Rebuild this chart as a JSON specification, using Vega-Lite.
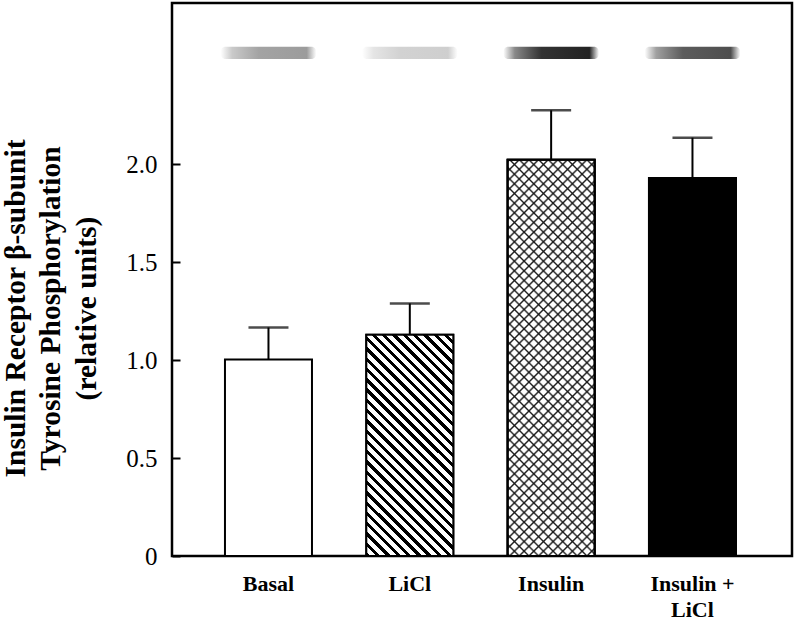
{
"$schema": "https://vega.github.io/schema/vega-lite/v6.json",
"width": 620,
"height": 553,
"autosize": {"type": "none"},
"padding": {"left": 172, "top": 3, "right": 5, "bottom": 67},
"background": "white",
"config": {"view": {"stroke": "black", "strokeWidth": 2.5}, "font": "Liberation Serif", "axis": {"grid": false, "domain": false}},
"data": {"values": [
{"group": "Basal", "mean": 1.004, "upper": 1.167, "blot": 0.45},
{"group": "LiCl", "mean": 1.13, "upper": 1.29, "blot": 0.22},
{"group": "Insulin", "mean": 2.024, "upper": 2.276, "blot": 1.0},
{"group": "Insulin + LiCl", "mean": 1.93, "upper": 2.136, "blot": 0.8}
]},
"encoding": {
"x": {"field": "group", "type": "nominal", "sort": null,
"scale": {"paddingInner": 0.3844, "paddingOuter": 0.3856, "align": 0.486},
"axis": {"title": null, "ticks": false, "domain": false, "labelAngle": 0, "labelFont": "Liberation Serif", "labelFontSize": 22, "labelFontWeight": "bold", "labelColor": "black", "labelPadding": 17, "labelLineHeight": 26, "labelExpr": "datum.value == 'Insulin + LiCl' ? ['Insulin +', 'LiCl'] : datum.label"}},
"y": {"field": "mean", "type": "quantitative", "scale": {"domain": [0, 2.824], "nice": false},
"axis": {"title": ["Insulin Receptor β-subunit", "Tyrosine Phosphorylation", "(relative units)"], "titleFont": "Liberation Serif", "titleFontSize": 29.5, "titleFontWeight": "bold", "titleColor": "black", "titleLineHeight": 35.5, "titleBaseline": "top", "titleAlign": "center", "titleAngle": -90, "titleX": -171, "titleY": 305,
"values": [0, 0.5, 1, 1.5, 2], "labelExpr": "datum.value == 0 ? '0' : format(datum.value, '.1f')", "labelFont": "Liberation Serif", "labelFontSize": 25, "labelColor": "black", "labelPadding": 23, "tickSize": -8, "tickWidth": 2, "tickColor": "black", "domain": false, "grid": false}}
},
"layer": [
{
"mark": {"type": "bar", "fill": "white", "stroke": "black", "strokeWidth": 2}
},
{
"mark": {"type": "bar", "width": {"band": 1.1}, "cornerRadius": 5,
"fill": {"gradient": "linear", "x1": 0, "y1": 0, "x2": 1, "y2": 0, "stops": [
{"offset": 0, "color": "rgba(40,40,40,0)"},
{"offset": 0.12, "color": "rgba(40,40,40,0.55)"},
{"offset": 0.4, "color": "#333"},
{"offset": 0.9, "color": "#222"},
{"offset": 1, "color": "rgba(40,40,40,0)"}]}},
"encoding": {
"y": {"datum": 2.538, "type": "quantitative", "scale": {"domain": [0, 2.824], "nice": false},
"axis": {"title": ["Insulin Receptor β-subunit", "Tyrosine Phosphorylation", "(relative units)"], "titleFont": "Liberation Serif", "titleFontSize": 29.5, "titleFontWeight": "bold", "titleColor": "black", "titleLineHeight": 35.5, "titleBaseline": "top", "titleAlign": "center", "titleAngle": -90, "titleX": -171, "titleY": 305,
"values": [0, 0.5, 1, 1.5, 2], "labelExpr": "datum.value == 0 ? '0' : format(datum.value, '.1f')", "labelFont": "Liberation Serif", "labelFontSize": 25, "labelColor": "black", "labelPadding": 23, "tickSize": -8, "tickWidth": 2, "tickColor": "black", "domain": false, "grid": false}},
"y2": {"datum": 2.6},
"opacity": {"field": "blot", "type": "quantitative", "scale": {"domain": [0, 1], "range": [0, 1]}, "legend": null}
}
},
{
"transform": [{"filter": "datum.group == 'LiCl'"}],
"mark": {"type": "bar", "stroke": "black", "strokeWidth": 2,
"fill": {"gradient": "linear", "x1": 0, "y1": 1, "x2": 0.4743, "y2": -0.2066, "stops": [
{"offset":0,"color":"#000"},{"offset":0.014,"color":"#000"},{"offset":0.014,"color":"#fff"},{"offset":0.03333,"color":"#fff"},
{"offset":0.03333,"color":"#000"},{"offset":0.04733,"color":"#000"},{"offset":0.04733,"color":"#fff"},{"offset":0.06667,"color":"#fff"},
{"offset":0.06667,"color":"#000"},{"offset":0.08067,"color":"#000"},{"offset":0.08067,"color":"#fff"},{"offset":0.1,"color":"#fff"},
{"offset":0.1,"color":"#000"},{"offset":0.114,"color":"#000"},{"offset":0.114,"color":"#fff"},{"offset":0.13333,"color":"#fff"},
{"offset":0.13333,"color":"#000"},{"offset":0.14733,"color":"#000"},{"offset":0.14733,"color":"#fff"},{"offset":0.16667,"color":"#fff"},
{"offset":0.16667,"color":"#000"},{"offset":0.18067,"color":"#000"},{"offset":0.18067,"color":"#fff"},{"offset":0.2,"color":"#fff"},
{"offset":0.2,"color":"#000"},{"offset":0.214,"color":"#000"},{"offset":0.214,"color":"#fff"},{"offset":0.23333,"color":"#fff"},
{"offset":0.23333,"color":"#000"},{"offset":0.24733,"color":"#000"},{"offset":0.24733,"color":"#fff"},{"offset":0.26667,"color":"#fff"},
{"offset":0.26667,"color":"#000"},{"offset":0.28067,"color":"#000"},{"offset":0.28067,"color":"#fff"},{"offset":0.3,"color":"#fff"},
{"offset":0.3,"color":"#000"},{"offset":0.314,"color":"#000"},{"offset":0.314,"color":"#fff"},{"offset":0.33333,"color":"#fff"},
{"offset":0.33333,"color":"#000"},{"offset":0.34733,"color":"#000"},{"offset":0.34733,"color":"#fff"},{"offset":0.36667,"color":"#fff"},
{"offset":0.36667,"color":"#000"},{"offset":0.38067,"color":"#000"},{"offset":0.38067,"color":"#fff"},{"offset":0.4,"color":"#fff"},
{"offset":0.4,"color":"#000"},{"offset":0.414,"color":"#000"},{"offset":0.414,"color":"#fff"},{"offset":0.43333,"color":"#fff"},
{"offset":0.43333,"color":"#000"},{"offset":0.44733,"color":"#000"},{"offset":0.44733,"color":"#fff"},{"offset":0.46667,"color":"#fff"},
{"offset":0.46667,"color":"#000"},{"offset":0.48067,"color":"#000"},{"offset":0.48067,"color":"#fff"},{"offset":0.5,"color":"#fff"},
{"offset":0.5,"color":"#000"},{"offset":0.514,"color":"#000"},{"offset":0.514,"color":"#fff"},{"offset":0.53333,"color":"#fff"},
{"offset":0.53333,"color":"#000"},{"offset":0.54733,"color":"#000"},{"offset":0.54733,"color":"#fff"},{"offset":0.56667,"color":"#fff"},
{"offset":0.56667,"color":"#000"},{"offset":0.58067,"color":"#000"},{"offset":0.58067,"color":"#fff"},{"offset":0.6,"color":"#fff"},
{"offset":0.6,"color":"#000"},{"offset":0.614,"color":"#000"},{"offset":0.614,"color":"#fff"},{"offset":0.63333,"color":"#fff"},
{"offset":0.63333,"color":"#000"},{"offset":0.64733,"color":"#000"},{"offset":0.64733,"color":"#fff"},{"offset":0.66667,"color":"#fff"},
{"offset":0.66667,"color":"#000"},{"offset":0.68067,"color":"#000"},{"offset":0.68067,"color":"#fff"},{"offset":0.7,"color":"#fff"},
{"offset":0.7,"color":"#000"},{"offset":0.714,"color":"#000"},{"offset":0.714,"color":"#fff"},{"offset":0.73333,"color":"#fff"},
{"offset":0.73333,"color":"#000"},{"offset":0.74733,"color":"#000"},{"offset":0.74733,"color":"#fff"},{"offset":0.76667,"color":"#fff"},
{"offset":0.76667,"color":"#000"},{"offset":0.78067,"color":"#000"},{"offset":0.78067,"color":"#fff"},{"offset":0.8,"color":"#fff"},
{"offset":0.8,"color":"#000"},{"offset":0.814,"color":"#000"},{"offset":0.814,"color":"#fff"},{"offset":0.83333,"color":"#fff"},
{"offset":0.83333,"color":"#000"},{"offset":0.84733,"color":"#000"},{"offset":0.84733,"color":"#fff"},{"offset":0.86667,"color":"#fff"},
{"offset":0.86667,"color":"#000"},{"offset":0.88067,"color":"#000"},{"offset":0.88067,"color":"#fff"},{"offset":0.9,"color":"#fff"},
{"offset":0.9,"color":"#000"},{"offset":0.914,"color":"#000"},{"offset":0.914,"color":"#fff"},{"offset":0.93333,"color":"#fff"},
{"offset":0.93333,"color":"#000"},{"offset":0.94733,"color":"#000"},{"offset":0.94733,"color":"#fff"},{"offset":0.96667,"color":"#fff"},
{"offset":0.96667,"color":"#000"},{"offset":0.98067,"color":"#000"},{"offset":0.98067,"color":"#fff"},{"offset":1,"color":"#fff"}
]}}
},
{
"transform": [{"filter": "datum.group == 'Insulin'"}],
"mark": {"type": "bar", "stroke": "black", "strokeWidth": 2,
"fill": {"gradient": "linear", "x1": 0, "y1": 1, "x2": 0.2554, "y2": -0.1635, "stops": [
{"offset":0,"color":"#fff"},{"offset":0.004,"color":"#1a1a1a"},{"offset":0.008,"color":"#fff"},
{"offset":0.02,"color":"#fff"},{"offset":0.024,"color":"#1a1a1a"},{"offset":0.028,"color":"#fff"},
{"offset":0.04,"color":"#fff"},{"offset":0.044,"color":"#1a1a1a"},{"offset":0.048,"color":"#fff"},
{"offset":0.06,"color":"#fff"},{"offset":0.064,"color":"#1a1a1a"},{"offset":0.068,"color":"#fff"},
{"offset":0.08,"color":"#fff"},{"offset":0.084,"color":"#1a1a1a"},{"offset":0.088,"color":"#fff"},
{"offset":0.1,"color":"#fff"},{"offset":0.104,"color":"#1a1a1a"},{"offset":0.108,"color":"#fff"},
{"offset":0.12,"color":"#fff"},{"offset":0.124,"color":"#1a1a1a"},{"offset":0.128,"color":"#fff"},
{"offset":0.14,"color":"#fff"},{"offset":0.144,"color":"#1a1a1a"},{"offset":0.148,"color":"#fff"},
{"offset":0.16,"color":"#fff"},{"offset":0.164,"color":"#1a1a1a"},{"offset":0.168,"color":"#fff"},
{"offset":0.18,"color":"#fff"},{"offset":0.184,"color":"#1a1a1a"},{"offset":0.188,"color":"#fff"},
{"offset":0.2,"color":"#fff"},{"offset":0.204,"color":"#1a1a1a"},{"offset":0.208,"color":"#fff"},
{"offset":0.22,"color":"#fff"},{"offset":0.224,"color":"#1a1a1a"},{"offset":0.228,"color":"#fff"},
{"offset":0.24,"color":"#fff"},{"offset":0.244,"color":"#1a1a1a"},{"offset":0.248,"color":"#fff"},
{"offset":0.26,"color":"#fff"},{"offset":0.264,"color":"#1a1a1a"},{"offset":0.268,"color":"#fff"},
{"offset":0.28,"color":"#fff"},{"offset":0.284,"color":"#1a1a1a"},{"offset":0.288,"color":"#fff"},
{"offset":0.3,"color":"#fff"},{"offset":0.304,"color":"#1a1a1a"},{"offset":0.308,"color":"#fff"},
{"offset":0.32,"color":"#fff"},{"offset":0.324,"color":"#1a1a1a"},{"offset":0.328,"color":"#fff"},
{"offset":0.34,"color":"#fff"},{"offset":0.344,"color":"#1a1a1a"},{"offset":0.348,"color":"#fff"},
{"offset":0.36,"color":"#fff"},{"offset":0.364,"color":"#1a1a1a"},{"offset":0.368,"color":"#fff"},
{"offset":0.38,"color":"#fff"},{"offset":0.384,"color":"#1a1a1a"},{"offset":0.388,"color":"#fff"},
{"offset":0.4,"color":"#fff"},{"offset":0.404,"color":"#1a1a1a"},{"offset":0.408,"color":"#fff"},
{"offset":0.42,"color":"#fff"},{"offset":0.424,"color":"#1a1a1a"},{"offset":0.428,"color":"#fff"},
{"offset":0.44,"color":"#fff"},{"offset":0.444,"color":"#1a1a1a"},{"offset":0.448,"color":"#fff"},
{"offset":0.46,"color":"#fff"},{"offset":0.464,"color":"#1a1a1a"},{"offset":0.468,"color":"#fff"},
{"offset":0.48,"color":"#fff"},{"offset":0.484,"color":"#1a1a1a"},{"offset":0.488,"color":"#fff"},
{"offset":0.5,"color":"#fff"},{"offset":0.504,"color":"#1a1a1a"},{"offset":0.508,"color":"#fff"},
{"offset":0.52,"color":"#fff"},{"offset":0.524,"color":"#1a1a1a"},{"offset":0.528,"color":"#fff"},
{"offset":0.54,"color":"#fff"},{"offset":0.544,"color":"#1a1a1a"},{"offset":0.548,"color":"#fff"},
{"offset":0.56,"color":"#fff"},{"offset":0.564,"color":"#1a1a1a"},{"offset":0.568,"color":"#fff"},
{"offset":0.58,"color":"#fff"},{"offset":0.584,"color":"#1a1a1a"},{"offset":0.588,"color":"#fff"},
{"offset":0.6,"color":"#fff"},{"offset":0.604,"color":"#1a1a1a"},{"offset":0.608,"color":"#fff"},
{"offset":0.62,"color":"#fff"},{"offset":0.624,"color":"#1a1a1a"},{"offset":0.628,"color":"#fff"},
{"offset":0.64,"color":"#fff"},{"offset":0.644,"color":"#1a1a1a"},{"offset":0.648,"color":"#fff"},
{"offset":0.66,"color":"#fff"},{"offset":0.664,"color":"#1a1a1a"},{"offset":0.668,"color":"#fff"},
{"offset":0.68,"color":"#fff"},{"offset":0.684,"color":"#1a1a1a"},{"offset":0.688,"color":"#fff"},
{"offset":0.7,"color":"#fff"},{"offset":0.704,"color":"#1a1a1a"},{"offset":0.708,"color":"#fff"},
{"offset":0.72,"color":"#fff"},{"offset":0.724,"color":"#1a1a1a"},{"offset":0.728,"color":"#fff"},
{"offset":0.74,"color":"#fff"},{"offset":0.744,"color":"#1a1a1a"},{"offset":0.748,"color":"#fff"},
{"offset":0.76,"color":"#fff"},{"offset":0.764,"color":"#1a1a1a"},{"offset":0.768,"color":"#fff"},
{"offset":0.78,"color":"#fff"},{"offset":0.784,"color":"#1a1a1a"},{"offset":0.788,"color":"#fff"},
{"offset":0.8,"color":"#fff"},{"offset":0.804,"color":"#1a1a1a"},{"offset":0.808,"color":"#fff"},
{"offset":0.82,"color":"#fff"},{"offset":0.824,"color":"#1a1a1a"},{"offset":0.828,"color":"#fff"},
{"offset":0.84,"color":"#fff"},{"offset":0.844,"color":"#1a1a1a"},{"offset":0.848,"color":"#fff"},
{"offset":0.86,"color":"#fff"},{"offset":0.864,"color":"#1a1a1a"},{"offset":0.868,"color":"#fff"},
{"offset":0.88,"color":"#fff"},{"offset":0.884,"color":"#1a1a1a"},{"offset":0.888,"color":"#fff"},
{"offset":0.9,"color":"#fff"},{"offset":0.904,"color":"#1a1a1a"},{"offset":0.908,"color":"#fff"},
{"offset":0.92,"color":"#fff"},{"offset":0.924,"color":"#1a1a1a"},{"offset":0.928,"color":"#fff"},
{"offset":0.94,"color":"#fff"},{"offset":0.944,"color":"#1a1a1a"},{"offset":0.948,"color":"#fff"},
{"offset":0.96,"color":"#fff"},{"offset":0.964,"color":"#1a1a1a"},{"offset":0.968,"color":"#fff"},
{"offset":0.98,"color":"#fff"},{"offset":0.984,"color":"#1a1a1a"},{"offset":0.988,"color":"#fff"},
{"offset":1,"color":"#fff"}
]}}
},
{
"transform": [{"filter": "datum.group == 'Insulin'"}],
"mark": {"type": "bar", "stroke": "black", "strokeWidth": 2,
"fill": {"gradient": "linear", "x1": 0, "y1": 0, "x2": 0.2554, "y2": 1.1635, "stops": [
{"offset":0,"color":"transparent"},{"offset":0.004,"color":"#1a1a1a"},{"offset":0.008,"color":"transparent"},
{"offset":0.02,"color":"transparent"},{"offset":0.024,"color":"#1a1a1a"},{"offset":0.028,"color":"transparent"},
{"offset":0.04,"color":"transparent"},{"offset":0.044,"color":"#1a1a1a"},{"offset":0.048,"color":"transparent"},
{"offset":0.06,"color":"transparent"},{"offset":0.064,"color":"#1a1a1a"},{"offset":0.068,"color":"transparent"},
{"offset":0.08,"color":"transparent"},{"offset":0.084,"color":"#1a1a1a"},{"offset":0.088,"color":"transparent"},
{"offset":0.1,"color":"transparent"},{"offset":0.104,"color":"#1a1a1a"},{"offset":0.108,"color":"transparent"},
{"offset":0.12,"color":"transparent"},{"offset":0.124,"color":"#1a1a1a"},{"offset":0.128,"color":"transparent"},
{"offset":0.14,"color":"transparent"},{"offset":0.144,"color":"#1a1a1a"},{"offset":0.148,"color":"transparent"},
{"offset":0.16,"color":"transparent"},{"offset":0.164,"color":"#1a1a1a"},{"offset":0.168,"color":"transparent"},
{"offset":0.18,"color":"transparent"},{"offset":0.184,"color":"#1a1a1a"},{"offset":0.188,"color":"transparent"},
{"offset":0.2,"color":"transparent"},{"offset":0.204,"color":"#1a1a1a"},{"offset":0.208,"color":"transparent"},
{"offset":0.22,"color":"transparent"},{"offset":0.224,"color":"#1a1a1a"},{"offset":0.228,"color":"transparent"},
{"offset":0.24,"color":"transparent"},{"offset":0.244,"color":"#1a1a1a"},{"offset":0.248,"color":"transparent"},
{"offset":0.26,"color":"transparent"},{"offset":0.264,"color":"#1a1a1a"},{"offset":0.268,"color":"transparent"},
{"offset":0.28,"color":"transparent"},{"offset":0.284,"color":"#1a1a1a"},{"offset":0.288,"color":"transparent"},
{"offset":0.3,"color":"transparent"},{"offset":0.304,"color":"#1a1a1a"},{"offset":0.308,"color":"transparent"},
{"offset":0.32,"color":"transparent"},{"offset":0.324,"color":"#1a1a1a"},{"offset":0.328,"color":"transparent"},
{"offset":0.34,"color":"transparent"},{"offset":0.344,"color":"#1a1a1a"},{"offset":0.348,"color":"transparent"},
{"offset":0.36,"color":"transparent"},{"offset":0.364,"color":"#1a1a1a"},{"offset":0.368,"color":"transparent"},
{"offset":0.38,"color":"transparent"},{"offset":0.384,"color":"#1a1a1a"},{"offset":0.388,"color":"transparent"},
{"offset":0.4,"color":"transparent"},{"offset":0.404,"color":"#1a1a1a"},{"offset":0.408,"color":"transparent"},
{"offset":0.42,"color":"transparent"},{"offset":0.424,"color":"#1a1a1a"},{"offset":0.428,"color":"transparent"},
{"offset":0.44,"color":"transparent"},{"offset":0.444,"color":"#1a1a1a"},{"offset":0.448,"color":"transparent"},
{"offset":0.46,"color":"transparent"},{"offset":0.464,"color":"#1a1a1a"},{"offset":0.468,"color":"transparent"},
{"offset":0.48,"color":"transparent"},{"offset":0.484,"color":"#1a1a1a"},{"offset":0.488,"color":"transparent"},
{"offset":0.5,"color":"transparent"},{"offset":0.504,"color":"#1a1a1a"},{"offset":0.508,"color":"transparent"},
{"offset":0.52,"color":"transparent"},{"offset":0.524,"color":"#1a1a1a"},{"offset":0.528,"color":"transparent"},
{"offset":0.54,"color":"transparent"},{"offset":0.544,"color":"#1a1a1a"},{"offset":0.548,"color":"transparent"},
{"offset":0.56,"color":"transparent"},{"offset":0.564,"color":"#1a1a1a"},{"offset":0.568,"color":"transparent"},
{"offset":0.58,"color":"transparent"},{"offset":0.584,"color":"#1a1a1a"},{"offset":0.588,"color":"transparent"},
{"offset":0.6,"color":"transparent"},{"offset":0.604,"color":"#1a1a1a"},{"offset":0.608,"color":"transparent"},
{"offset":0.62,"color":"transparent"},{"offset":0.624,"color":"#1a1a1a"},{"offset":0.628,"color":"transparent"},
{"offset":0.64,"color":"transparent"},{"offset":0.644,"color":"#1a1a1a"},{"offset":0.648,"color":"transparent"},
{"offset":0.66,"color":"transparent"},{"offset":0.664,"color":"#1a1a1a"},{"offset":0.668,"color":"transparent"},
{"offset":0.68,"color":"transparent"},{"offset":0.684,"color":"#1a1a1a"},{"offset":0.688,"color":"transparent"},
{"offset":0.7,"color":"transparent"},{"offset":0.704,"color":"#1a1a1a"},{"offset":0.708,"color":"transparent"},
{"offset":0.72,"color":"transparent"},{"offset":0.724,"color":"#1a1a1a"},{"offset":0.728,"color":"transparent"},
{"offset":0.74,"color":"transparent"},{"offset":0.744,"color":"#1a1a1a"},{"offset":0.748,"color":"transparent"},
{"offset":0.76,"color":"transparent"},{"offset":0.764,"color":"#1a1a1a"},{"offset":0.768,"color":"transparent"},
{"offset":0.78,"color":"transparent"},{"offset":0.784,"color":"#1a1a1a"},{"offset":0.788,"color":"transparent"},
{"offset":0.8,"color":"transparent"},{"offset":0.804,"color":"#1a1a1a"},{"offset":0.808,"color":"transparent"},
{"offset":0.82,"color":"transparent"},{"offset":0.824,"color":"#1a1a1a"},{"offset":0.828,"color":"transparent"},
{"offset":0.84,"color":"transparent"},{"offset":0.844,"color":"#1a1a1a"},{"offset":0.848,"color":"transparent"},
{"offset":0.86,"color":"transparent"},{"offset":0.864,"color":"#1a1a1a"},{"offset":0.868,"color":"transparent"},
{"offset":0.88,"color":"transparent"},{"offset":0.884,"color":"#1a1a1a"},{"offset":0.888,"color":"transparent"},
{"offset":0.9,"color":"transparent"},{"offset":0.904,"color":"#1a1a1a"},{"offset":0.908,"color":"transparent"},
{"offset":0.92,"color":"transparent"},{"offset":0.924,"color":"#1a1a1a"},{"offset":0.928,"color":"transparent"},
{"offset":0.94,"color":"transparent"},{"offset":0.944,"color":"#1a1a1a"},{"offset":0.948,"color":"transparent"},
{"offset":0.96,"color":"transparent"},{"offset":0.964,"color":"#1a1a1a"},{"offset":0.968,"color":"transparent"},
{"offset":0.98,"color":"transparent"},{"offset":0.984,"color":"#1a1a1a"},{"offset":0.988,"color":"transparent"},
{"offset":1,"color":"transparent"}
]}}
},
{
"transform": [{"filter": "datum.group == 'Insulin + LiCl'"}],
"mark": {"type": "bar", "fill": "black", "stroke": "black", "strokeWidth": 2}
},
{
"mark": {"type": "rule", "color": "black", "strokeWidth": 2},
"encoding": {"y2": {"field": "upper"}}
},
{
"mark": {"type": "tick", "color": "black", "size": 40, "thickness": 2.5, "orient": "horizontal"},
"encoding": {
"y": {"field": "upper", "type": "quantitative", "scale": {"domain": [0, 2.824], "nice": false},
"axis": {"title": ["Insulin Receptor β-subunit", "Tyrosine Phosphorylation", "(relative units)"], "titleFont": "Liberation Serif", "titleFontSize": 29.5, "titleFontWeight": "bold", "titleColor": "black", "titleLineHeight": 35.5, "titleBaseline": "top", "titleAlign": "center", "titleAngle": -90, "titleX": -171, "titleY": 305,
"values": [0, 0.5, 1, 1.5, 2], "labelExpr": "datum.value == 0 ? '0' : format(datum.value, '.1f')", "labelFont": "Liberation Serif", "labelFontSize": 25, "labelColor": "black", "labelPadding": 23, "tickSize": -8, "tickWidth": 2, "tickColor": "black", "domain": false, "grid": false}}
}
}
]
}
